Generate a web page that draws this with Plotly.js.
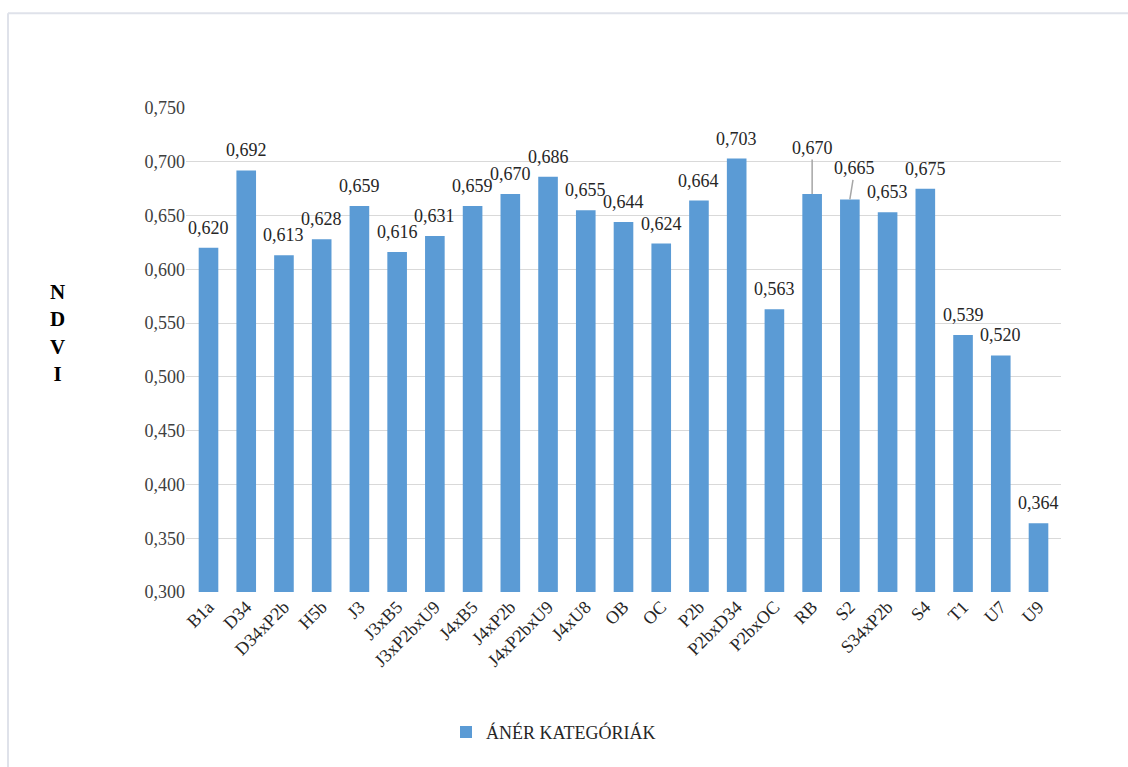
<!DOCTYPE html>
<html>
<head>
<meta charset="utf-8">
<script src="https://cdn.plot.ly/plotly-3.0.1.min.js"></script>
<style>html,body{margin:0;padding:0;background:#fff;}#chart{width:1128px;height:767px;}</style>
</head>
<body>
<div id="chart"></div>
<script>
const categories = ["B1a","D34","D34xP2b","H5b","J3","J3xB5","J3xP2bxU9","J4xB5","J4xP2b","J4xP2bxU9","J4xU8","OB","OC","P2b","P2bxD34","P2bxOC","RB","S2","S34xP2b","S4","T1","U7","U9"];
const ndviValues = [0.620,0.692,0.613,0.628,0.659,0.616,0.631,0.659,0.670,0.686,0.655,0.644,0.624,0.664,0.703,0.563,0.670,0.665,0.653,0.675,0.539,0.520,0.364];
const seriesName = "ÁNÉR KATEGÓRIÁK";
const yTickValues = [0.300,0.350,0.400,0.450,0.500,0.550,0.600,0.650,0.700,0.750];
const calloutCategories = ["RB","S2"];

const fmt = v => v.toFixed(3).replace('.', ',');

const serif = "Liberation Serif";
const trace = {
  type: 'bar',
  x: categories,
  y: ndviValues,
  name: seriesName,
  marker: {color: '#5b9bd5'},
  showlegend: true,
  hoverinfo: 'x+y'
};

const calloutOffsets = {"RB": [0, -46], "S2": [5, -31]};
const labelFont = {family: serif, size: 18, color: '#262626'};
const annotations = categories.map((c, i) => {
  if (calloutCategories.includes(c)) {
    return {
      x: c, y: ndviValues[i], xref: 'x', yref: 'y',
      text: fmt(ndviValues[i]),
      showarrow: true, arrowhead: 0, arrowwidth: 1.5, arrowcolor: '#a6a6a6',
      ax: calloutOffsets[c][0], ay: calloutOffsets[c][1],
      font: labelFont
    };
  }
  return {
    x: c, y: ndviValues[i], xref: 'x', yref: 'y',
    text: fmt(ndviValues[i]), showarrow: false,
    xanchor: 'center', yanchor: 'bottom', yshift: 8,
    font: labelFont
  };
});
annotations.push({
  xref: 'paper', yref: 'paper', x: -0.147, y: 0.535,
  xanchor: 'center', yanchor: 'middle', showarrow: false,
  text: "<b>N<br>D<br>V<br>I</b>",
  font: {family: serif, size: 21, color: '#000000'}
});

const layout = {
  width: 1128, height: 767,
  margin: {l: 186, r: 67, t: 108, b: 175},
  paper_bgcolor: '#ffffff', plot_bgcolor: '#ffffff',
  separators: ', ',
  bargap: 0.48,
  font: {family: serif, size: 18, color: '#404040'},
  xaxis: {
    type: 'category', tickangle: -45,
    tickfont: {family: serif, size: 18, color: '#262626'},
    showgrid: false, showline: false, ticks: '', automargin: false
  },
  yaxis: {
    range: [0.3, 0.75], tickvals: yTickValues, tickformat: '.3f',
    tickfont: {family: serif, size: 18, color: '#404040'},
    showgrid: true, gridcolor: '#d9d9d9', gridwidth: 1,
    zeroline: false, showline: false, ticks: '', ticklen: 0, automargin: false
  },
  legend: {
    orientation: 'h', x: 0.42, xanchor: 'center', y: -0.29, yanchor: 'middle',
    font: {family: serif, size: 18, color: '#262626'},
    itemwidth: 30
  },
  annotations: annotations,
  shapes: [
    {type: 'line', xref: 'paper', yref: 'paper', x0: -0.2034, x1: -0.2034, y0: 1.196, y1: -0.37, line: {color: '#dfe2ea', width: 2}},
    {type: 'line', xref: 'paper', yref: 'paper', x0: -0.2034, x1: 1.08, y0: 1.196, y1: 1.196, line: {color: '#dfe2ea', width: 2}}
  ]
};

Plotly.newPlot('chart', [trace], layout, {displayModeBar: false, staticPlot: true});
</script>
</body>
</html>
